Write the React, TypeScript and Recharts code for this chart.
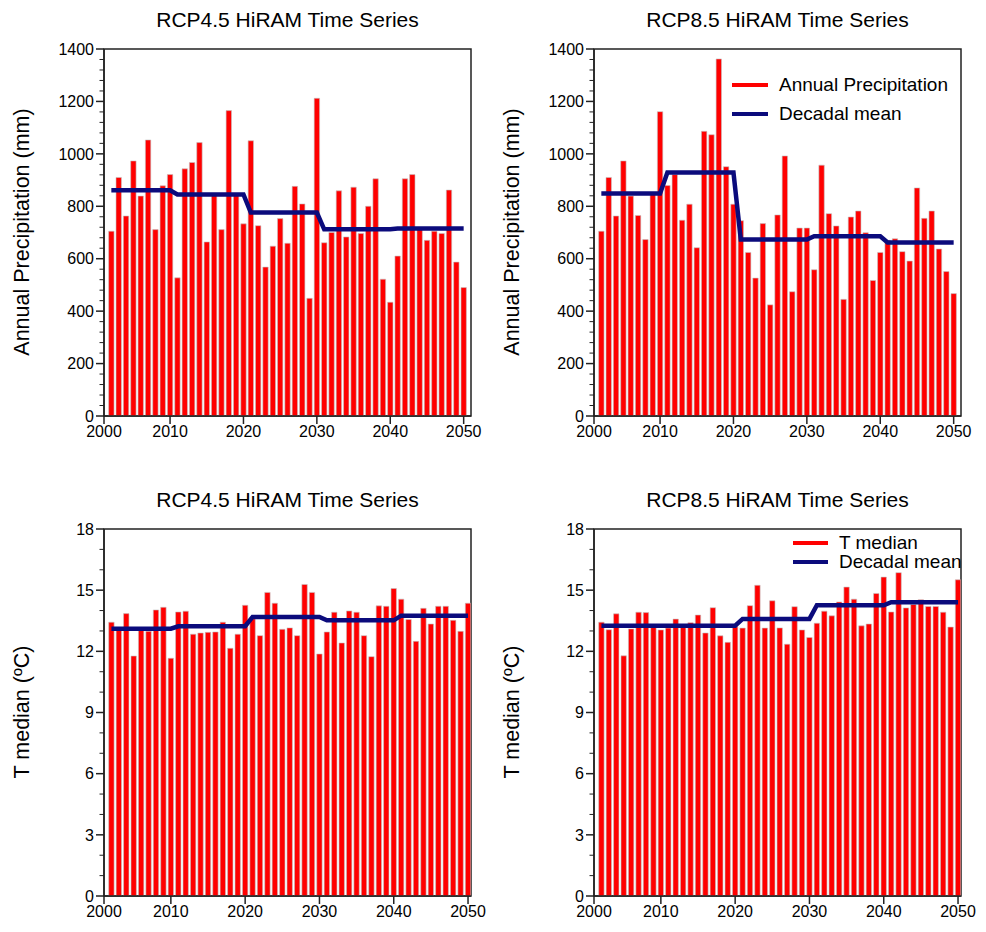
import React from "react";
import { ComposedChart, Bar, Line, XAxis, YAxis, ReferenceArea } from "recharts";

const YEARS = [
  2002, 2003, 2004, 2005, 2006, 2007, 2008, 2009, 2010,
  2011, 2012, 2013, 2014, 2015, 2016, 2017, 2018, 2019, 2020,
  2021, 2022, 2023, 2024, 2025, 2026, 2027, 2028, 2029, 2030,
  2031, 2032, 2033, 2034, 2035, 2036, 2037, 2038, 2039, 2040,
  2041, 2042, 2043, 2044, 2045, 2046, 2047, 2048, 2049, 2050,
];

const PRECIP_RCP45 = [
  705, 910, 763, 973, 839, 1053, 711, 878, 921,
  527, 943, 967, 1043, 664, 842, 711, 1165, 848, 733,
  1050, 726, 568, 648, 753, 659, 876, 809, 449, 1212,
  661, 700, 859, 683, 873, 696, 800, 905, 522, 434,
  610, 905, 921, 715, 670, 705, 696, 862, 587, 490,
];
const PRECIP_RCP85 = [
  705, 910, 763, 973, 839, 765, 673, 845, 1161,
  879, 921, 747, 808, 642, 1086, 1073, 1362, 951, 808,
  745, 624, 526, 734, 424, 767, 992, 474, 717, 717,
  558, 957, 772, 725, 445, 759, 782, 699, 517, 624,
  670, 676, 627, 591, 870, 754, 782, 637, 551, 467,
];
const TEMP_RCP45 = [
  13.43, 13.05, 13.85, 11.77, 13.03, 12.98, 14.03, 14.16, 11.66,
  13.93, 13.97, 12.84, 12.9, 12.93, 12.95, 13.43, 12.15, 12.84, 14.26,
  13.6, 12.77, 14.89, 14.36, 13.08, 13.15, 12.77, 15.28, 14.89, 11.87,
  12.95, 13.92, 12.41, 13.98, 13.92, 12.77, 11.74, 14.23, 14.21, 15.08,
  14.56, 13.56, 12.49, 14.11, 13.34, 14.21, 14.21, 13.52, 12.98, 14.36,
];
const TEMP_RCP85 = [
  13.43, 13.06, 13.84, 11.78, 13.1, 13.92, 13.9, 13.22, 13.05,
  13.14, 13.58, 13.28, 13.4, 13.78, 12.9, 14.14, 12.76, 12.44, 13.2,
  13.14, 14.24, 15.24, 13.14, 14.48, 13.15, 12.35, 14.19, 13.05, 12.68,
  13.38, 13.97, 13.74, 14.42, 15.15, 14.56, 13.25, 13.34, 14.84, 15.64,
  13.93, 15.86, 14.13, 14.3, 14.53, 14.2, 14.2, 13.92, 13.19, 15.51,
];

const DECADES = [
  [2002, 2010],
  [2011, 2020],
  [2021, 2030],
  [2031, 2040],
  [2041, 2050],
];
const PRECIP_RCP45_DECADAL = [861, 845, 776, 712, 715];
const PRECIP_RCP85_DECADAL = [849, 929, 673, 686, 662];
const TEMP_RCP45_DECADAL = [13.11, 13.23, 13.69, 13.52, 13.75];
const TEMP_RCP85_DECADAL = [13.26, 13.26, 13.59, 14.26, 14.41];

const X_TICKS = [2001, 2010, 2020, 2030, 2040, 2050];
const X_TICK_LABELS = ["2000", "2010", "2020", "2030", "2040", "2050"];
const PRECIP_TICKS = [0, 200, 400, 600, 800, 1000, 1200, 1400];
const PRECIP_MINOR = [
  40, 80, 120, 160, 240, 280, 320, 360, 440, 480, 520, 560, 640, 680, 720, 760,
  840, 880, 920, 960, 1040, 1080, 1120, 1160, 1240, 1280, 1320, 1360,
];
const TEMP_TICKS = [0, 3, 6, 9, 12, 15, 18];
const TEMP_MINOR = [1, 2, 4, 5, 7, 8, 10, 11, 13, 14, 16, 17];

const FONT = "'Liberation Sans', Arial, Helvetica, sans-serif";
const RED = "#ff0000";
const NAVY = "#0b0b7c";
const AXIS = "#222";
const PLOT_LEFT = 104;

type LegendItem = { color: string; text: string };

function makeYTick(major: number[]) {
  return function YTick(p: any) {
    const v = p.payload?.value;
    const y = p.y;
    const isMajor = major.indexOf(v) >= 0;
    if (!isMajor) {
      return (
        <line x1={PLOT_LEFT - 4.5} x2={PLOT_LEFT} y1={y} y2={y} stroke={AXIS} strokeWidth={1} />
      );
    }
    return (
      <g>
        <line x1={PLOT_LEFT - 8} x2={PLOT_LEFT} y1={y} y2={y} stroke={AXIS} strokeWidth={1.5} />
        <text x={PLOT_LEFT - 10} y={y} dy="0.36em" textAnchor="end" fontSize={16} fill="#000" fontFamily={FONT}>
          {v}
        </text>
      </g>
    );
  };
}

function Panel(props: {
  left: number;
  top: number;
  title: string;
  yLabel: string;
  values: number[];
  decadal: number[];
  yMax: number;
  yTicks: number[];
  yMinor: number[];
  xMax: number;
  legend?: { items: LegendItem[]; x: number; y: number; gap: number; line: number };
}) {
  const { left, top, title, yLabel, values, decadal, yMax, yTicks, yMinor, xMax, legend } = props;
  const data = YEARS.map((yr, i) => {
    const d = DECADES.findIndex(([a, b]) => yr >= a && yr <= b);
    return { year: yr, value: values[i], mean: decadal[d] };
  });
  const allTicks = [...yTicks, ...yMinor].sort((a, b) => a - b);
  const YTick = makeYTick(yTicks);
  return (
    <div style={{ position: "absolute", left, top, width: 490, height: 460, fontFamily: FONT }}>
      <div
        style={{
          position: "absolute",
          left: 104,
          width: 367,
          top: 7,
          textAlign: "center",
          fontSize: 21,
          lineHeight: "26px",
          color: "#000",
        }}
      >
        {title}
      </div>
      <ComposedChart
        width={490}
        height={460}
        data={data}
        margin={{ top: 49, right: 19, bottom: 14, left: 44 }}
        style={{ fontFamily: FONT }}
      >
        <XAxis
          dataKey="year"
          type="number"
          domain={[2001, xMax]}
          allowDataOverflow
          ticks={X_TICKS}
          interval={0}
          tickFormatter={(v: number) => X_TICK_LABELS[X_TICKS.indexOf(v)]}
          height={30}
          tickSize={8}
          tickMargin={2}
          stroke={AXIS}
          strokeWidth={1.5}
          tick={{ fill: "#000", fontSize: 16 }}
        />
        <YAxis
          type="number"
          domain={[0, yMax]}
          allowDataOverflow
          ticks={allTicks}
          interval={0}
          width={60}
          tickSize={8}
          tickLine={false}
          stroke={AXIS}
          strokeWidth={1.5}
          tick={YTick}
        />
        <Bar
          dataKey="value"
          fill={RED}
          stroke="#c4c4c4"
          strokeWidth={0.6}
          barSize={5.4}
          isAnimationActive={false}
        />
        <Line
          dataKey="mean"
          type="linear"
          stroke={NAVY}
          strokeWidth={4.5}
          dot={false}
          activeDot={false}
          isAnimationActive={false}
        />
        <ReferenceArea
          x1={2001}
          x2={xMax}
          y1={0}
          y2={yMax}
          fill="none"
          fillOpacity={0}
          stroke={AXIS}
          strokeWidth={1.5}
          ifOverflow="visible"
        />
      </ComposedChart>
      <div
        style={{
          position: "absolute",
          left: 22,
          top: 232,
          transform: "translate(-50%, -50%) rotate(-90deg)",
          whiteSpace: "nowrap",
          fontSize: 21.5,
          color: "#000",
        }}
      >
        {yLabel}
      </div>
      {legend && (
        <div style={{ position: "absolute", left: legend.x, top: legend.y }}>
          {legend.items.map((it, i) => (
            <div
              key={it.text}
              style={{
                position: "absolute",
                left: 0,
                top: i * legend.gap,
                display: "flex",
                alignItems: "center",
                height: 0,
                whiteSpace: "nowrap",
              }}
            >
              <div style={{ width: legend.line, height: 4, background: it.color, marginRight: 11 }} />
              <span style={{ fontSize: 19, color: "#000" }}>{it.text}</span>
            </div>
          ))}
        </div>
      )}
    </div>
  );
}

export default function App() {
  return (
    <div style={{ position: "absolute", left: 0, top: 0, width: 986, height: 932, background: "#fff" }}>
      <Panel
        left={0}
        top={0}
        title="RCP4.5 HiRAM Time Series"
        yLabel="Annual Precipitation (mm)"
        values={PRECIP_RCP45}
        decadal={PRECIP_RCP45_DECADAL}
        yMax={1400}
        yTicks={PRECIP_TICKS}
        yMinor={PRECIP_MINOR}
        xMax={2051}
      />
      <Panel
        left={490}
        top={0}
        title="RCP8.5 HiRAM Time Series"
        yLabel="Annual Precipitation (mm)"
        values={PRECIP_RCP85}
        decadal={PRECIP_RCP85_DECADAL}
        yMax={1400}
        yTicks={PRECIP_TICKS}
        yMinor={PRECIP_MINOR}
        xMax={2051}
        legend={{
          x: 242,
          y: 85,
          gap: 29,
          line: 36,
          items: [
            { color: RED, text: "Annual Precipitation" },
            { color: NAVY, text: "Decadal mean" },
          ],
        }}
      />
      <Panel
        left={0}
        top={480}
        title="RCP4.5 HiRAM Time Series"
        yLabel="T median (ºC)"
        values={TEMP_RCP45}
        decadal={TEMP_RCP45_DECADAL}
        yMax={18}
        yTicks={TEMP_TICKS}
        yMinor={TEMP_MINOR}
        xMax={2050.4}
      />
      <Panel
        left={490}
        top={480}
        title="RCP8.5 HiRAM Time Series"
        yLabel="T median (ºC)"
        values={TEMP_RCP85}
        decadal={TEMP_RCP85_DECADAL}
        yMax={18}
        yTicks={TEMP_TICKS}
        yMinor={TEMP_MINOR}
        xMax={2050.4}
        legend={{
          x: 303,
          y: 63,
          gap: 19,
          line: 35,
          items: [
            { color: RED, text: "T median" },
            { color: NAVY, text: "Decadal mean" },
          ],
        }}
      />
    </div>
  );
}
